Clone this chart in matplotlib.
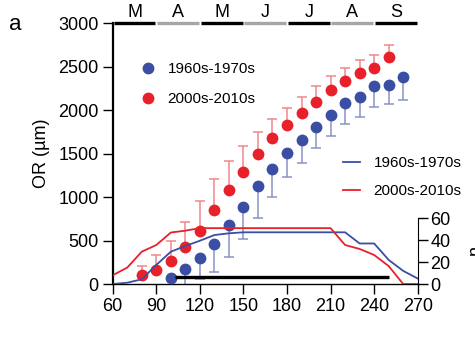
import matplotlib
matplotlib.use('Agg')
import matplotlib.pyplot as plt
from matplotlib.lines import Line2D

plt.rcParams['font.family'] = ['Liberation Sans', 'DejaVu Sans']

# observed root (OR) size, scatter series
days_blue = [100, 110, 120, 130, 140, 150, 160, 170, 180, 190, 200, 210, 220, 230, 240, 250, 260]
or_blue = [72, 169, 296, 460, 679, 890, 1128, 1323, 1504, 1657, 1810, 1945, 2079, 2155, 2278, 2290, 2385]
err_blue = [100, 200, 242, 319, 365, 376, 372, 318, 276, 261, 249, 242, 238, 230, 238, 222, 265]

days_red = [80, 90, 100, 110, 120, 130, 140, 150, 160, 170, 180, 190, 200, 210, 220, 230, 240, 250]
or_red = [104, 161, 268, 429, 613, 852, 1082, 1292, 1496, 1676, 1830, 1971, 2098, 2232, 2336, 2432, 2489, 2616]
err_red = [103, 173, 230, 288, 346, 353, 337, 299, 256, 219, 192, 184, 180, 162, 146, 146, 146, 134]

# sample size n (right axis)
days_n = [60, 70, 80, 90, 100, 110, 120, 130, 140, 150, 160, 170, 180, 190, 200, 210, 220, 230, 240, 250, 260, 270]
n_blue = [0, 1.2, 4.3, 17.4, 29.5, 34.7, 39.5, 44.7, 46.3, 47.2, 47.2, 47.2, 47.2, 47.2, 47.2, 47.2, 47.2, 37, 37, 22, 12, 5]
n_red = [8, 15, 29.5, 35.6, 47, 48.7, 51, 51, 51, 51, 51, 51, 51, 51, 51, 51, 35.6, 32, 26.5, 16.4, 0, 0]

months = ['M', 'A', 'M', 'J', 'J', 'A', 'S']
month_start = [60, 90, 120, 150, 180, 210, 240]
labels = ['1960s-1970s', '2000s-2010s']

blue = '#3a4ea3'
red = '#e8202a'
blue_err = '#8a93c4'
red_err = '#f0868c'

fig = plt.figure(figsize=(4.75, 3.54), dpi=100)
ax = fig.add_axes([0.2373, 0.1977, 0.6421, 0.7365])

ax.errorbar(days_blue, or_blue, yerr=[err_blue, [0] * len(err_blue)], fmt='none',
            ecolor=blue_err, elinewidth=1.1, capsize=3.6, capthick=1.1, zorder=2)
ax.errorbar(days_red, or_red, yerr=[[0] * len(err_red), err_red], fmt='none',
            ecolor=red_err, elinewidth=1.1, capsize=3.6, capthick=1.1, zorder=2)
ax.plot(days_blue, or_blue, 'o', color=blue, ms=8.5, mec='none', zorder=3)
ax.plot(days_red, or_red, 'o', color=red, ms=8.5, mec='none', zorder=3)

# black bar along the bottom
ax.hlines(85, 103, 250, color='black', lw=2.4, zorder=4)

ax.set_xlim(60, 270)
ax.set_ylim(0, 3000)
ax.set_xticks(range(60, 271, 30))
ax.set_yticks(range(0, 3001, 500))
ax.tick_params(direction='out', length=7, width=1, labelsize=13, pad=3)
ax.spines['top'].set_visible(False)
ax.spines['right'].set_visible(False)
ax.spines['left'].set_linewidth(1.6)
ax.spines['bottom'].set_linewidth(1.0)
ax.set_ylabel('OR (µm)', fontsize=13, labelpad=6)

# month bar on top
for i, (start, m) in enumerate(zip(month_start, months)):
    c = 'black' if i % 2 == 0 else '#a6a6a6'
    ax.plot([start + 0.6, start + 29.4], [3000, 3000], color=c, lw=2.4,
            solid_capstyle='butt', clip_on=False, zorder=5)
    ax.annotate(m, (start + 15, 3000), xytext=(0, 2), textcoords='offset points',
                ha='center', va='bottom', fontsize=13, annotation_clip=False)

ax.legend(handles=[Line2D([], [], ls='none', marker='o', color=blue, ms=8.5, mec='none'),
                   Line2D([], [], ls='none', marker='o', color=red, ms=8.5, mec='none')],
          labels=labels, loc='upper left', bbox_to_anchor=(0.065, 0.875),
          frameon=False, fontsize=11, handletextpad=0.7, labelspacing=1.05,
          borderaxespad=0, handlelength=1.2)

ax2 = ax.twinx()
ax2.plot(days_n, n_blue, color=blue, lw=1.3)
ax2.plot(days_n, n_red, color=red, lw=1.3)
ax2.set_ylim(0, 238)
ax2.set_yticks([0, 20, 40, 60])
ax2.spines['top'].set_visible(False)
ax2.spines['left'].set_visible(False)
ax2.spines['bottom'].set_visible(False)
ax2.spines['right'].set_bounds(0, 60)
ax2.tick_params(direction='out', length=7, width=1, labelsize=13, pad=2)
ax2.legend(handles=[Line2D([], [], color=blue, lw=1.3), Line2D([], [], color=red, lw=1.3)],
           labels=labels, loc='upper left', bbox_to_anchor=(0.735, 0.515),
           frameon=False, fontsize=11, handletextpad=0.9, labelspacing=0.95,
           borderaxespad=0, handlelength=1.1)

fig.text(0.983, 0.294, 'n', rotation=90, fontsize=13, ha='left', va='center')
fig.text(0.02, 0.93, 'a', fontsize=16, ha='left', va='center')

fig.savefig('out.png', dpi=100)
